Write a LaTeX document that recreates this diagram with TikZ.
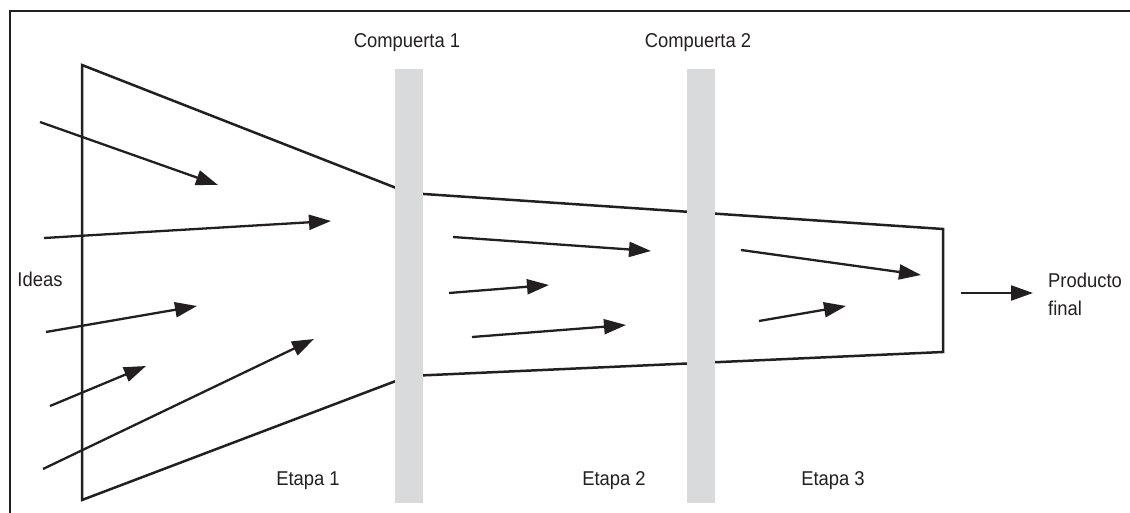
\documentclass[tikz,border=0pt]{standalone}
\usepackage{fontspec}
\setmainfont{Liberation Sans}[FakeStretch=0.92]
\usetikzlibrary{arrows.meta}
\definecolor{ink}{HTML}{231F20}
\definecolor{gategray}{HTML}{D9DADC}
\begin{document}
\begin{tikzpicture}[x=1pt,y=-1pt,
  lbl/.style={inner sep=0pt,anchor=base,font=\fontsize{20}{28}\selectfont,text=ink},
  frameline/.style={draw=ink,line width=2.8pt},
  funnel/.style={draw=ink,line width=2.5pt,line join=miter},
  gate/.style={fill=gategray,draw=none},
  flow/.style={draw=ink,line width=2.3pt,-{Triangle[length=22pt,width=15pt]}}]
\useasboundingbox (0,0) rectangle (1130,513);
% frame
\coordinate (fTR) at (1131,11);
\coordinate (fTL) at (10,11);
\coordinate (fBL) at (10,514);
\draw[frameline] (fTR) -- (fTL) -- (fBL);
% funnel outline
\draw[funnel] (82,65) -- (409,193) -- (943,229) -- (943,352) -- (409,376) -- (82,500) -- cycle;
% gates
\path[gate] (395,69) rectangle (423,503);
\path[gate] (687,69) rectangle (715,503);
% labels
\node[lbl] (g1) at (407,48) {Compuerta 1};
\node[lbl] (g2) at (698,48) {Compuerta 2};
\node[lbl] (e1) at (308,485) {Etapa 1};
\node[lbl] (e2) at (614,485) {Etapa 2};
\node[lbl] (e3) at (833,485) {Etapa 3};
\node[lbl] (ideas) at (40,287) {Ideas};
\node[lbl,anchor=base west,align=left] (prod) at (1048,315) {Producto\\final};
% arrow end points
\coordinate (a1s) at (40,122);  \coordinate (a1e) at (218,185);
\coordinate (a2s) at (44,238);  \coordinate (a2e) at (331,221);
\coordinate (a3s) at (46,332);  \coordinate (a3e) at (197,306);
\coordinate (a4s) at (50,406);  \coordinate (a4e) at (146,366);
\coordinate (a5s) at (43,469);  \coordinate (a5e) at (314,339);
\coordinate (a6s) at (453,237); \coordinate (a6e) at (651,251);
\coordinate (a7s) at (449,293); \coordinate (a7e) at (549,285);
\coordinate (a8s) at (472,337); \coordinate (a8e) at (626,325);
\coordinate (a9s) at (741,250); \coordinate (a9e) at (921,275);
\coordinate (a10s) at (759,321); \coordinate (a10e) at (846,306);
\coordinate (a11s) at (961,293); \coordinate (a11e) at (1033,293);
\foreach \i in {1,...,11} \draw[flow] (a\i s) -- (a\i e);
\end{tikzpicture}
\end{document}
